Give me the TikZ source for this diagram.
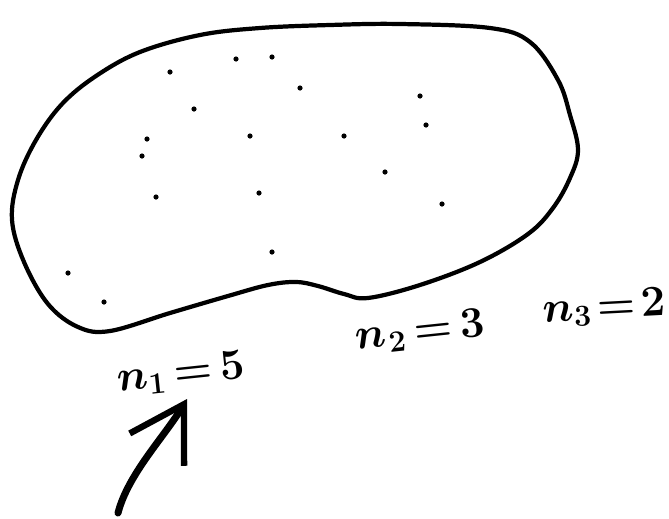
\documentclass[tikz,border=0pt]{standalone}
\usetikzlibrary{arrows.meta, positioning, calc}
\tikzset{
  blob/.style={line width=2.4pt, smooth cycle, tension=0.6},
  pt/.style={fill=black},
  lbl/.style={font=\fontsize{#1}{#1}\selectfont\boldmath, inner sep=0pt},
  lbl/.default=27,
  ptr/.style={-{Straight Barb[length=30pt, width=36pt, line width=3.6pt]},
              line width=4pt, line cap=round},
}

\begin{document}
\begin{tikzpicture}[x=0.02cm, y=-0.02cm]
  \useasboundingbox (0,0) rectangle (669,518);
  % the set
  \draw[blob] plot coordinates {(260,28) (330,25) (400,24) (490,28) (530,42)
    (558,80) (570,115) (578,150) (570,178) (553,208) (528,234) (480,262)
    (420,285) (368,298) (344,294) (318,286) (296,282) (268,285) (228,296)
    (170,313) (110,331) (78,327) (48,304) (24,262) (12,220) (18,180)
    (36,140) (62,104) (96,76) (140,52) (200,35)};

  % the points
  \foreach \x/\y in {236/59, 272/57, 170/72, 300/88, 420/96, 194/109,
                     426/125, 147/139, 250/136, 344/136, 142/156, 385/172,
                     156/197, 259/193, 442/204, 272/252, 68/273, 104/302}
    \fill[pt] (\x,\y) circle (2.6);

  % counts
  \node[lbl, rotate=6] (n1) at (181,374) {$n_1\mkern3mu{=}\mkern3mu5$};
  \node[lbl, rotate=6] (n2) at (420,332) {$n_{\mkern1mu2}\mkern3mu{=}\mkern3mu3$};
  \node[lbl=24, rotate=3] (n3) at (604,308) {$n_3\mkern2mu{=}\mkern2mu2$};

  \coordinate (tail) at (118,513);
  \draw[ptr] (tail) .. controls (128,474) and (165,436) .. ($(n1.center)+(6,25)$);
\end{tikzpicture}
\end{document}
